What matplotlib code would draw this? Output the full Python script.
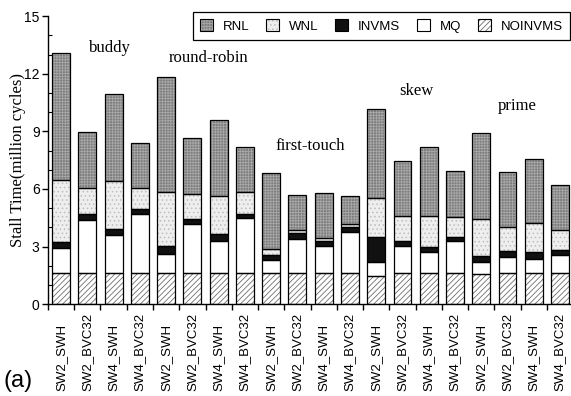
import numpy as np
import matplotlib
matplotlib.use("Agg")
import matplotlib.pyplot as plt
from matplotlib.patches import Patch
from matplotlib.legend_handler import HandlerTuple
from matplotlib.transforms import blended_transform_factory

configs = ["SW2_SWH", "SW2_BVC32", "SW4_SWH", "SW4_BVC32"]
policies = ["buddy", "round-robin", "first-touch", "skew", "prime"]
labels = configs * len(policies)

# stall time components per bar (million cycles)
noinvms = [1.60, 1.60, 1.60, 1.60, 1.60, 1.60, 1.60, 1.60, 1.60, 1.60,
           1.60, 1.60, 1.46, 1.60, 1.60, 1.60, 1.58, 1.60, 1.60, 1.60]
mq = [1.33, 2.78, 1.98, 3.12, 1.00, 2.57, 1.70, 2.90, 0.69, 1.79,
      1.42, 2.17, 0.71, 1.42, 1.09, 1.70, 0.59, 0.83, 0.76, 0.97]
invms = [0.33, 0.31, 0.36, 0.23, 0.42, 0.26, 0.33, 0.22, 0.26, 0.29,
         0.28, 0.26, 1.35, 0.28, 0.31, 0.22, 0.36, 0.33, 0.37, 0.26]
wnl = [3.20, 1.37, 2.48, 1.11, 2.80, 1.33, 1.99, 1.10, 0.30, 0.17,
       0.17, 0.14, 2.00, 1.28, 1.58, 1.03, 1.91, 1.28, 1.51, 1.02]
rnl = [6.64, 2.92, 4.55, 2.36, 6.02, 2.90, 3.96, 2.36, 3.97, 1.84,
       2.33, 1.44, 4.65, 2.90, 3.63, 2.38, 4.50, 2.85, 3.31, 2.35]

# group label placement (data coords)
policy_x = [1.87, 5.60, 9.48, 13.52, 17.37]
policy_y = [13.33, 12.81, 8.23, 11.09, 10.31]

plt.rcParams["hatch.linewidth"] = 0.6

# name, values, face, hatch, hatch colour
layers = [
    ("NOINVMS", noinvms, "white", "//////", "#6e6e6e"),
    ("MQ", mq, "white", "", "white"),
    ("INVMS", invms, "#111111", "", "#111111"),
    ("WNL", wnl, "#eeeeee", "....", "#bdbdbd"),
    ("RNL", rnl, "#7c7c7c", "++++++", "#a8a8a8"),
]

fig = plt.figure(figsize=(5.71, 3.96), dpi=100)
ax = fig.add_axes([0.084, 0.232, 0.916, 0.727])

x = np.arange(len(labels))
width = 0.68
bottom = np.zeros(len(labels))
handles = {}
for name, vals, face, hatch, hcol in layers:
    vals = np.array(vals)
    # hatched fill first, then a black outline on top
    ax.bar(x, vals, width, bottom=bottom, color=face, hatch=hatch,
           edgecolor=hcol, linewidth=0, zorder=2)
    ax.bar(x, vals, width, bottom=bottom, fill=False,
           edgecolor="black", linewidth=0.9, zorder=3)
    handles[name] = (Patch(facecolor=face, hatch=hatch, edgecolor=hcol, linewidth=0),
                     Patch(fill=False, edgecolor="black", linewidth=0.8))
    bottom += vals

ax.set_xlim(-0.5, 19.42)
ax.set_ylim(0, 15)
ax.set_yticks(np.arange(0, 16, 3))
ax.set_yticks(np.arange(0, 16, 1), minor=True)
ax.tick_params(axis="y", which="major", direction="out", length=4, width=1,
               labelsize=10, pad=2)
ax.tick_params(axis="y", which="minor", direction="in", length=3, width=0.8)
ax.set_xticks(np.arange(-0.5, 19.5, 1))
ax.set_xticks(np.arange(-0.25, 19.5, 0.5), minor=True)
ax.set_xticklabels([])
ax.tick_params(axis="x", which="major", direction="out", length=4, width=1)
ax.tick_params(axis="x", which="minor", direction="in", length=2, width=0.7)
for side in ("top", "right"):
    ax.spines[side].set_visible(False)
for side in ("left", "bottom"):
    ax.spines[side].set_linewidth(1.0)

for lab in ax.get_yticklabels():
    lab.set_family("Liberation Sans")

ax.set_ylabel("Stall Time(million cycles)", family="Liberation Serif",
              fontsize=12, labelpad=-1)

# bar labels, bottom-aligned along the lower edge
trans = blended_transform_factory(ax.transData, fig.transFigure)
for xi, lab in zip(x, labels):
    ax.text(xi, 0.012, lab, transform=trans, rotation=90, ha="center",
            va="bottom", fontsize=9.5, family="Liberation Sans")

for px, py, name in zip(policy_x, policy_y, policies):
    ax.text(px, py, name, ha="center", va="center", fontsize=12,
            family="Liberation Serif")

order = ["RNL", "WNL", "INVMS", "MQ", "NOINVMS"]
leg = fig.legend([handles[k] for k in order], order, ncol=5,
                 loc="upper right", bbox_to_anchor=(0.998, 0.97),
                 borderaxespad=0,
                 handler_map={tuple: HandlerTuple(ndivide=1)},
                 handlelength=1.0, handleheight=1.0,
                 columnspacing=1.3, handletextpad=0.7, borderpad=0.55,
                 fancybox=False, framealpha=1,
                 prop={"family": "Liberation Sans", "size": 9.5})
leg.get_frame().set_edgecolor("black")
leg.get_frame().set_linewidth(0.9)

fig.text(0.006, 0.037, "(a)", fontsize=17, family="Liberation Sans",
         ha="left", va="center")

fig.savefig("out.png", dpi=100)
